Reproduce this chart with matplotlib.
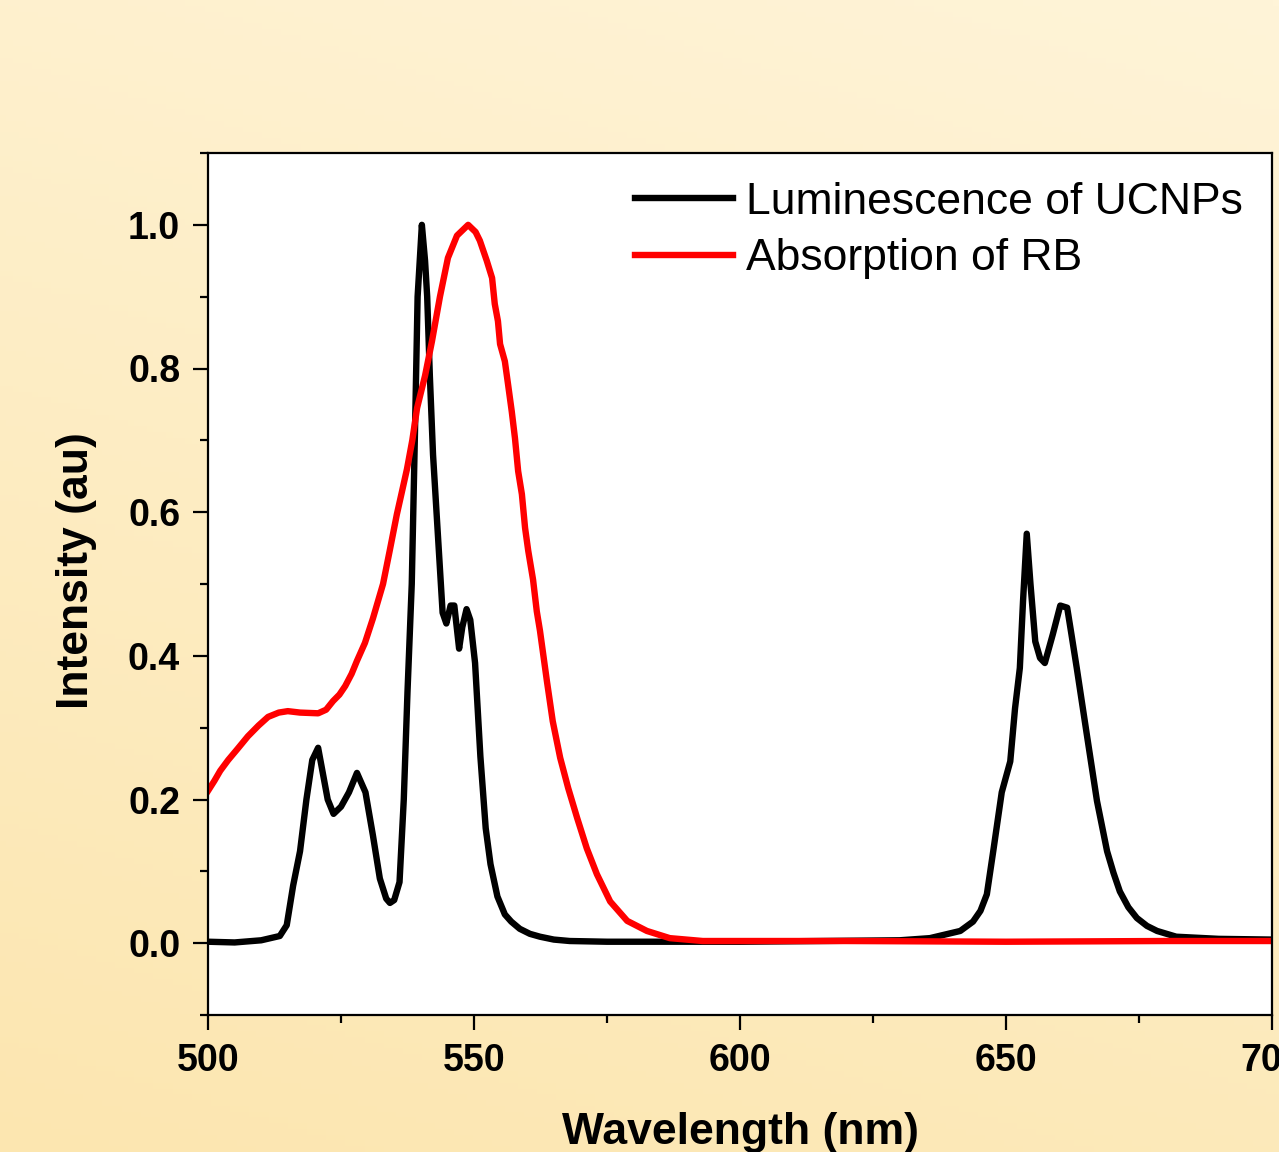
import numpy as np
import matplotlib.pyplot as plt

plt.rcParams['font.family'] = ['Liberation Sans', 'DejaVu Sans']

# Luminescence of UCNPs
lum_x = [500, 505, 510, 513.5, 514.8, 516, 517.3, 518.5, 519.6, 520.7, 521.5, 522.5, 523.6,
         525, 526.5, 528, 529.6, 531, 532.3, 533.5, 534.2, 535, 536, 536.8, 537.5, 538.3,
         538.9, 539.4, 540.2, 540.8, 541.2, 541.7, 542.3, 543.2, 544.1, 544.8, 545.6, 546.3,
         547.2, 547.8, 548.6, 549.3, 550.2, 551.2, 552.2, 553.1, 554.4, 555.8, 557, 558.6,
         560.5, 562.4, 565, 568, 575, 585, 600, 615, 630, 635.7, 641.4, 643.8, 645.2, 646.4,
         647.6, 649.2, 650.8, 651.7, 652.6, 653.2, 653.9, 654.6, 655.5, 656.4, 657.3, 658.8,
         660.2, 661.5, 662.3, 663.3, 665.2, 667.1, 669, 670.2, 671.4, 673, 674.6, 676.5, 678.4,
         682, 690, 700]
lum_y = [0.002, 0.001, 0.004, 0.01, 0.025, 0.08, 0.128, 0.2, 0.255, 0.272, 0.24, 0.2, 0.18,
         0.19, 0.21, 0.237, 0.21, 0.15, 0.09, 0.062, 0.056, 0.06, 0.085, 0.2, 0.35, 0.5,
         0.71, 0.9, 1.0, 0.95, 0.9, 0.79, 0.68, 0.57, 0.46, 0.445, 0.47, 0.47,
         0.41, 0.44, 0.465, 0.45, 0.39, 0.26, 0.16, 0.11, 0.065, 0.04, 0.03, 0.02,
         0.013, 0.009, 0.005, 0.003, 0.002, 0.002, 0.002, 0.003, 0.004, 0.007, 0.017, 0.03,
         0.045, 0.068, 0.128, 0.21, 0.253, 0.327, 0.383, 0.476, 0.57, 0.5, 0.42, 0.397, 0.39,
         0.43, 0.47, 0.467, 0.43, 0.383, 0.29, 0.198, 0.128, 0.098, 0.072, 0.05, 0.035, 0.024,
         0.017, 0.009, 0.006, 0.005]

# Absorption of RB
abs_x = [500, 501.2, 502.3, 503.8, 505.5, 507.5, 509.5, 511.3, 513.3, 515, 517.3, 520.7,
         522.2, 523.5, 524.7, 525.8, 527, 528, 529.5, 531, 532.9, 534.2, 535.5, 536.5, 537.4,
         538.4, 539.3, 540.8, 542.1, 543.6, 545.1, 546.8, 548.9, 550.3, 551.1, 552.4, 553.4,
         553.9, 554.5, 554.9, 555.8, 556.4, 557.1, 557.7, 558.3, 559, 559.6, 560.2, 561.1,
         561.8, 562.4, 563.7, 564.8, 566.2, 567.7, 569.4, 571.2, 573.1, 575.6, 578.8, 582.5,
         586.8, 593, 600, 620, 650, 680, 700]
abs_y = [0.212, 0.226, 0.24, 0.255, 0.27, 0.288, 0.303, 0.315, 0.321, 0.323, 0.321, 0.32,
         0.325, 0.337, 0.346, 0.358, 0.375, 0.393, 0.418, 0.452, 0.5, 0.548, 0.597, 0.63,
         0.66, 0.7, 0.745, 0.79, 0.838, 0.9, 0.954, 0.985, 1.0, 0.99, 0.978, 0.95, 0.926,
         0.89, 0.866, 0.834, 0.81, 0.778, 0.74, 0.703, 0.657, 0.625, 0.578, 0.546, 0.506,
         0.462, 0.435, 0.365, 0.309, 0.258, 0.216, 0.174, 0.132, 0.096, 0.058, 0.031, 0.017,
         0.007, 0.003, 0.003, 0.003, 0.002, 0.003, 0.003]

W, H = 1279, 1152
fig = plt.figure(figsize=(W / 100, H / 100), dpi=100)

# background gradient: light cream top-right, deeper yellow bottom-left
bg = fig.add_axes([0, 0, 1, 1], zorder=-10)
gy, gx = np.mgrid[0:1:200j, 0:1:200j]
t = np.clip(0.75 * gy + 0.25 * (1 - gx), 0, 1)
top = np.array([255, 244, 216]) / 255
bot = np.array([252, 230, 176]) / 255
img = top[None, None, :] * (1 - t[..., None]) + bot[None, None, :] * t[..., None]
bg.imshow(img, aspect='auto', extent=[0, 1, 0, 1], origin='upper')
bg.axis('off')

ax = fig.add_axes([208 / W, (H - 1015) / H, (1272 - 208) / W, (1015 - 153) / H])
ax.set_facecolor('white')
ax.plot(lum_x, lum_y, color='black', lw=4.6, label='Luminescence of UCNPs',
        solid_joinstyle='round')
ax.plot(abs_x, abs_y, color='#ff0000', lw=4.6, label='Absorption of RB',
        solid_joinstyle='round')

ax.set_xlim(500, 700)
ax.set_ylim(-0.1, 1.1)
ax.set_xticks([500, 550, 600, 650, 700])
ax.set_xticks(np.arange(525, 700, 50), minor=True)
ax.set_yticks([0.0, 0.2, 0.4, 0.6, 0.8, 1.0])
ax.set_yticks([-0.1, 0.1, 0.3, 0.5, 0.7, 0.9, 1.1], minor=True)
ax.set_yticklabels(['0.0', '0.2', '0.4', '0.6', '0.8', '1.0'])

ax.tick_params(which='major', direction='out', length=11, width=1.6, pad=9,
               labelsize=27)
ax.tick_params(which='minor', direction='out', length=6, width=1.6)
for lab in ax.get_xticklabels() + ax.get_yticklabels():
    lab.set_fontweight('bold')
for s in ax.spines.values():
    s.set_linewidth(1.6)

ax.set_xlabel('Wavelength (nm)', fontsize=32, fontweight='bold', labelpad=24)
ax.set_ylabel('Intensity (au)', fontsize=32, fontweight='bold')
ax.yaxis.set_label_coords(-0.104, 0.516)

leg = ax.legend(loc='upper right', frameon=False, fontsize=32, handlelength=2.2,
                handletextpad=0.3, labelspacing=0.35, borderaxespad=0.25)

fig.savefig('out.png', dpi=100)
